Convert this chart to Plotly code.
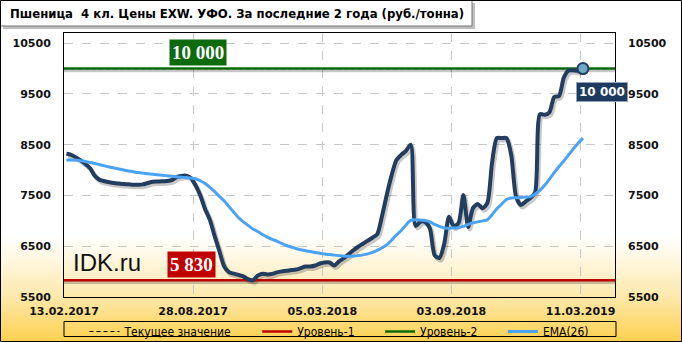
import base64
import plotly.graph_objects as go

# ---------------- data ----------------
price = [
    8320, 8300, 8250, 8190, 8120, 8030, 7880, 7807, 7780, 7760,
    7745, 7735, 7725, 7720, 7712, 7710, 7718, 7745, 7770, 7775,
    7778, 7785, 7800, 7860, 7885, 7890, 7850, 7700, 7500, 7230,
    7020, 6700, 6400, 6100, 5990, 5960, 5935, 5905, 5850, 5830,
    5920, 5960, 5945, 5955, 5985, 6005, 6015, 6030, 6040, 6070,
    6100, 6100, 6120, 6160, 6180, 6180, 6120, 6200, 6265, 6340,
    6420, 6490, 6550, 6610, 6670, 6740, 7100, 7520, 7900, 8200,
    8300, 8380, 8500, 6900, 6980, 6980, 6850, 6320, 6270, 6550,
    7080, 6890, 6960, 7510, 6880, 7250, 7330, 7250, 7350, 8150,
    8630, 8630, 8630, 8300, 7480, 7310, 7380, 7450, 7560, 9100,
    9090, 9140, 9440, 9460, 9820, 9960, 9965, 9955, 10000,
]
ema26 = [
    8200, 8198, 8193, 8185, 8170, 8150, 8128, 8105, 8082, 8060,
    8040, 8020, 8000, 7983, 7967, 7952, 7940, 7928, 7917, 7908,
    7898, 7888, 7878, 7868, 7860, 7852, 7842, 7830, 7790, 7735,
    7660, 7575, 7480, 7390, 7280, 7170, 7060, 6980, 6910, 6840,
    6790, 6730, 6680, 6635, 6600, 6555, 6515, 6485, 6455, 6430,
    6410, 6395, 6378, 6360, 6345, 6335, 6325, 6315, 6305, 6302,
    6305, 6315, 6330, 6350, 6380, 6420, 6470, 6530, 6620, 6720,
    6810, 6920, 7010, 7020, 7015, 7005, 6980, 6930, 6890, 6860,
    6855, 6860, 6865, 6890, 6930, 6960, 6980, 7000, 7020, 7120,
    7240, 7330, 7420, 7450, 7455, 7460, 7468, 7476, 7530, 7600,
    7700, 7820, 7950, 8070, 8180, 8300, 8420, 8530, 8630,
]
tick_labels = ["13.02.2017", "28.08.2017", "05.03.2018", "03.09.2018", "11.03.2019"]
tick_step = 27            # categories between date labels
level_1 = 5830
level_2 = 10000
current_value = 10000
y_ticks = [5500, 6500, 7500, 8500, 9500, 10500]
y_tick_labels = ["5500", "6500", "7500", "8500", "9500", "10500"]
title_text = "Пшеница  4 кл. Цены EXW. УФО. За последние 2 года (руб./тонна)"
legend_names = ["Текущее значение", "Уровень-1", "Уровень-2", "EMA(26)"]

# ---------------- geometry ----------------
W, H = 682, 342
L, R, T, B = 64, 67, 33, 45
PW, PH = W - L - R, H - T - B
def px(x):
    return (x - L) / PW
def py(y):
    return (H - B - y) / PH

n = len(price)
xs = list(range(n))
x_range = [-0.5, 114.7]
y_range = [5500, 10700]
tick_pos = [-0.5 + tick_step * k for k in range(len(tick_labels))]

DARK = "#233d5f"
BLUE = "#4aa3f5"
RED = "#c00000"
GREEN = "#0d6b0d"
SHADOW = "rgba(0,0,0,0.22)"
TICKFONT = dict(family="DejaVu Sans", size=11, color="#111111", weight="bold")
NARROW = "DejaVu Sans Condensed, Liberation Sans Narrow, sans-serif"
PAD = "\u00a0" * 6

fig = go.Figure()

# shadows
dy_sh = 45
dx_sh = 0.35
fig.add_trace(go.Scatter(x=x_range, y=[level_1 - dy_sh] * 2, mode="lines",
                         line=dict(color=SHADOW, width=3), showlegend=False, hoverinfo="skip"))
fig.add_trace(go.Scatter(x=x_range, y=[level_2 - dy_sh] * 2, mode="lines",
                         line=dict(color=SHADOW, width=3), showlegend=False, hoverinfo="skip"))
fig.add_trace(go.Scatter(x=[x + dx_sh for x in xs], y=[v - dy_sh for v in price], mode="lines",
                         line=dict(color=SHADOW, width=4.5, shape="spline", smoothing=0.7),
                         showlegend=False, hoverinfo="skip"))

# legend traces
fig.add_trace(go.Scatter(x=x_range, y=[current_value] * 2, mode="lines", name=legend_names[0] + PAD,
                         line=dict(color="#000000", width=1.2, dash="4px,3px")))
fig.add_trace(go.Scatter(x=x_range, y=[level_1] * 2, mode="lines", name=legend_names[1] + PAD,
                         line=dict(color=RED, width=2.5)))
fig.add_trace(go.Scatter(x=x_range, y=[level_2] * 2, mode="lines", name=legend_names[2] + PAD,
                         line=dict(color=GREEN, width=2.5)))

# price
fig.add_trace(go.Scatter(x=xs, y=price, mode="lines", showlegend=False,
                         line=dict(color=DARK, width=4, shape="spline", smoothing=0.7)))
# EMA
fig.add_trace(go.Scatter(x=xs, y=ema26, mode="lines", name=legend_names[3],
                         line=dict(color=BLUE, width=3, shape="spline", smoothing=0.7)))
# last point marker
fig.add_trace(go.Scatter(x=[xs[-1]], y=[price[-1]], mode="markers", showlegend=False,
                         marker=dict(size=11, color="#6fa9c6", line=dict(color=DARK, width=2))))
# invisible trace to carry the right-hand axis
fig.add_trace(go.Scatter(x=x_range, y=y_range, mode="lines", yaxis="y2", showlegend=False,
                         hoverinfo="skip", line=dict(width=0, color="rgba(0,0,0,0)")))

# ---------------- background gradient ----------------
svg = (
    '<svg xmlns="http://www.w3.org/2000/svg" width="682" height="342" preserveAspectRatio="none">'
    '<defs><linearGradient id="g" x1="0" y1="0" x2="0" y2="1">'
    '<stop offset="0" stop-color="#ffffff"/>'
    '<stop offset="0.69" stop-color="#ffffff"/>'
    '<stop offset="0.86" stop-color="#feeab0"/>'
    '<stop offset="1" stop-color="#fcd04e"/>'
    '</linearGradient></defs><rect width="682" height="342" fill="url(#g)"/></svg>'
)
src = "data:image/svg+xml;base64," + base64.b64encode(svg.encode()).decode()

shapes = [
    # title box shadow + box
    dict(type="rect", xref="paper", yref="paper", x0=px(3), x1=px(475), y0=py(29), y1=py(3),
         fillcolor="rgba(0,0,0,0.25)", line=dict(width=0), layer="above"),
    dict(type="rect", xref="paper", yref="paper", x0=px(0.5), x1=px(472), y0=py(26), y1=py(0.5),
         fillcolor="#ffffff", line=dict(color="#777777", width=1), layer="above"),
    # legend box
    dict(type="rect", xref="paper", yref="paper", x0=px(64), x1=px(616), y0=py(336.5), y1=py(321.5),
         fillcolor="rgba(0,0,0,0)", line=dict(color="#000000", width=1), layer="above"),
    # outer border
    dict(type="rect", xref="paper", yref="paper", x0=px(0.5), x1=px(681.5), y0=py(341.5), y1=py(0.5),
         fillcolor="rgba(0,0,0,0)", line=dict(color="#000000", width=1), layer="above"),
]

annotations = [
    dict(xref="paper", yref="paper", x=px(8), y=py(13), xanchor="left", yanchor="middle",
         text="<b>" + title_text + "</b>", showarrow=False,
         font=dict(family=NARROW, size=13, color="#000000")),
    dict(x=27.5, y=10318, text="<b>10 000</b>", showarrow=False, bgcolor=GREEN,
         font=dict(family="Liberation Serif, serif", size=19, color="#ffffff"), borderpad=2),
    dict(x=26.2, y=6131, text="<b>5 830</b>", showarrow=False, bgcolor=RED,
         font=dict(family="Liberation Serif, serif", size=19, color="#ffffff"), borderpad=2),
    dict(x=111.9, y=9541, text="<b>10 000</b>", showarrow=False, bgcolor="#1f3a5f",
         bordercolor="#8fa3bb", borderwidth=1, borderpad=2,
         font=dict(family="DejaVu Sans", size=12, color="#ffffff")),
    dict(x=8.5, y=6180, text="IDK.ru", showarrow=False,
         font=dict(family="Liberation Sans, Arial, sans-serif", size=24, color="#111111")),
]

fig.update_layout(
    width=W, height=H,
    margin=dict(l=L, r=R, t=T, b=B, pad=0, autoexpand=False),
    paper_bgcolor="#ffffff",
    plot_bgcolor="rgba(0,0,0,0)",
    images=[dict(source=src, xref="paper", yref="paper", x=px(0), y=py(0),
                 sizex=W / PW, sizey=H / PH, xanchor="left", yanchor="top",
                 sizing="stretch", layer="below")],
    shapes=shapes,
    annotations=annotations,
    showlegend=True,
    legend=dict(orientation="h", x=0.5, xanchor="center", y=py(317), yanchor="top",
                bgcolor="rgba(0,0,0,0)", borderwidth=0,
                font=dict(family=NARROW, size=12, color="#000000"),
                itemwidth=30, tracegroupgap=0),
    xaxis=dict(range=x_range, tickmode="array", tickvals=tick_pos, ticktext=tick_labels,
               showgrid=True, gridcolor="#c8c8c8", griddash="dash", gridwidth=1,
               showline=True, linecolor="#000000", linewidth=1, mirror=True,
               ticks="", ticklabelstandoff=4, tickfont=TICKFONT, zeroline=False),
    yaxis=dict(range=y_range, tickmode="array", tickvals=y_ticks, ticktext=y_tick_labels,
               showgrid=True, gridcolor="#c8c8c8", griddash="dash", gridwidth=1,
               showline=True, linecolor="#000000", linewidth=1, mirror=True,
               ticks="", ticklabelstandoff=10, tickfont=TICKFONT, zeroline=False),
    yaxis2=dict(range=y_range, tickmode="array", tickvals=y_ticks, ticktext=y_tick_labels,
                overlaying="y", side="right",
                showgrid=False, showline=False, ticks="", ticklabelstandoff=12,
                tickfont=TICKFONT, zeroline=False),
)

fig.write_html("out.html")
